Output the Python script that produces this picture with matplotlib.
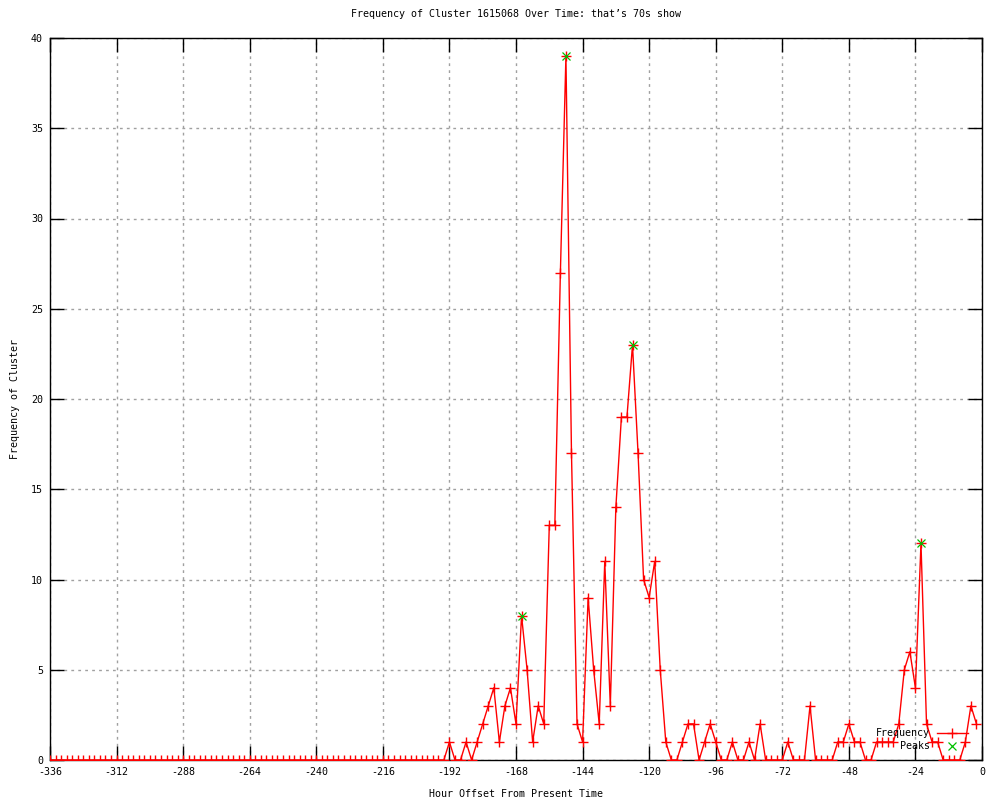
import matplotlib
matplotlib.use("Agg")
import matplotlib.pyplot as plt
from matplotlib.lines import Line2D

plt.rcParams['font.family'] = ['DejaVu Sans Mono', 'DejaVu Sans']
plt.rcParams['axes.unicode_minus'] = False

hours = [-336, -334, -332, -330, -328, -326, -324, -322, -320, -318, -316, -314,
         -312, -310, -308, -306, -304, -302, -300, -298, -296, -294, -292, -290,
         -288, -286, -284, -282, -280, -278, -276, -274, -272, -270, -268, -266,
         -264, -262, -260, -258, -256, -254, -252, -250, -248, -246, -244, -242,
         -240, -238, -236, -234, -232, -230, -228, -226, -224, -222, -220, -218,
         -216, -214, -212, -210, -208, -206, -204, -202, -200, -198, -196, -194,
         -192, -190, -188, -186, -184, -182, -180, -178, -176, -174, -172, -170,
         -168, -166, -164, -162, -160, -158, -156, -154, -152, -150, -148, -146,
         -144, -142, -140, -138, -136, -134, -132, -130, -128, -126, -124, -122,
         -120, -118, -116, -114, -112, -110, -108, -106, -104, -102, -100, -98,
         -96, -94, -92, -90, -88, -86, -84, -82, -80, -78, -76, -74,
         -72, -70, -68, -66, -64, -62, -60, -58, -56, -54, -52, -50,
         -48, -46, -44, -42, -40, -38, -36, -34, -32, -30, -28, -26,
         -24, -22, -20, -18, -16, -14, -12, -10, -8, -6, -4, -2]

frequency = [0, 0, 0, 0, 0, 0, 0, 0, 0, 0, 0, 0,
             0, 0, 0, 0, 0, 0, 0, 0, 0, 0, 0, 0,
             0, 0, 0, 0, 0, 0, 0, 0, 0, 0, 0, 0,
             0, 0, 0, 0, 0, 0, 0, 0, 0, 0, 0, 0,
             0, 0, 0, 0, 0, 0, 0, 0, 0, 0, 0, 0,
             0, 0, 0, 0, 0, 0, 0, 0, 0, 0, 0, 0,
             1, 0, 0, 1, 0, 1, 2, 3, 4, 1, 3, 4,
             2, 8, 5, 1, 3, 2, 13, 13, 27, 39, 17, 2,
             1, 9, 5, 2, 11, 3, 14, 19, 19, 23, 17, 10,
             9, 11, 5, 1, 0, 0, 1, 2, 2, 0, 1, 2,
             1, 0, 0, 1, 0, 0, 1, 0, 2, 0, 0, 0,
             0, 1, 0, 0, 0, 3, 0, 0, 0, 0, 1, 1,
             2, 1, 1, 0, 0, 1, 1, 1, 1, 2, 5, 6,
             4, 12, 2, 1, 1, 0, 0, 0, 0, 1, 3, 2]

peak_hours = [-166, -150, -126, -22]
peak_values = [8, 39, 23, 12]

x_ticks = [-336, -312, -288, -264, -240, -216, -192, -168, -144, -120, -96, -72, -48, -24, 0]
y_ticks = [0, 5, 10, 15, 20, 25, 30, 35, 40]

title = "Frequency of Cluster 1615068 Over Time: that\u2019s 70s show"
xlabel = "Hour Offset From Present Time"
ylabel = "Frequency of Cluster"

fig = plt.figure(figsize=(10, 8), dpi=100)
ax = fig.add_axes([0.05, 0.05, 0.932, 0.9025])

fs = 7.2
ax.plot(hours, frequency, color='#ff0000', lw=1.0, marker='+', ms=6.5, mew=1.0, zorder=3)
ax.plot(peak_hours, peak_values, color='#00c000', lw=0, marker='x', ms=5.5, mew=0.9, zorder=4)

ax.set_xlim(-336, 0)
ax.set_ylim(0, 40)
ax.set_xticks(x_ticks)
ax.set_yticks(y_ticks)
ax.set_xticklabels([str(v) for v in x_ticks], fontsize=fs)
ax.set_yticklabels([str(v) for v in y_ticks], fontsize=fs)
ax.tick_params(direction='in', length=10, width=1.0, top=True, right=True,
               pad=5, colors='black')
ax.grid(True, color='#a0a0a0', linestyle=(0, (2, 3)), linewidth=1.0)
for s in ax.spines.values():
    s.set_linewidth(1.0)
    s.set_color('black')

ax.set_title(title, fontsize=fs, pad=15)
ax.set_xlabel(xlabel, fontsize=fs, labelpad=9)
ax.set_ylabel(ylabel, fontsize=fs, labelpad=8)

# legend (gnuplot style, right-aligned text, sample on right)
lx_text = 0.944
ly1, ly2 = 0.0374, 0.0194
ax.text(lx_text, ly1, "Frequency", transform=ax.transAxes, ha='right', va='center', fontsize=fs)
ax.text(lx_text, ly2, "Peaks", transform=ax.transAxes, ha='right', va='center', fontsize=fs)
ax.add_line(Line2D([0.9517, 0.985], [ly1, ly1], transform=ax.transAxes, color='#ff0000', lw=1.0))
ax.add_line(Line2D([0.968], [ly1], transform=ax.transAxes, color='#ff0000', marker='+', ms=6.5, mew=1.0, lw=0))
ax.add_line(Line2D([0.968], [ly2], transform=ax.transAxes, color='#00c000', marker='x', ms=5.5, mew=0.9, lw=0))

fig.savefig("out.png", dpi=100)
